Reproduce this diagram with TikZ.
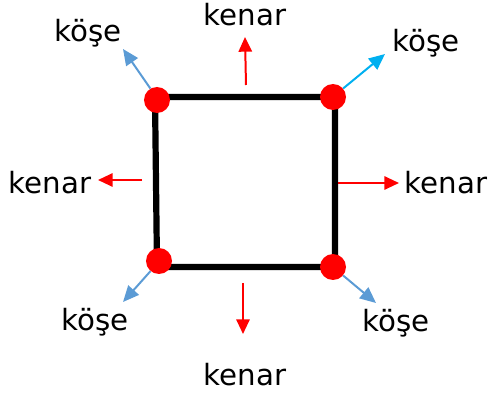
\documentclass[tikz,border=0pt]{standalone}
\usepackage{fontspec}
\setmainfont{DejaVu Sans}
\usepackage{tikz}
\usetikzlibrary{arrows.meta, positioning, calc}
\definecolor{dotred}{RGB}{255, 0, 0}
\definecolor{edgered}{RGB}{255, 0, 0}
\definecolor{cornerblue}{RGB}{91, 155, 213}
\definecolor{cornercyan}{RGB}{0, 176, 240}
\tikzset{
    cornerdot/.style={
        circle, fill=dotred, minimum size=0.78cm, inner sep=0pt
    },
    lbl/.style={
        font=\fontsize{25}{28}\selectfont, inner sep=0pt
    },
    edgeptr/.style={
        -{Triangle[length=0.44cm, width=0.4cm]}, edgered, line width=1.7pt
    },
    cornerptr/.style={
        -{Triangle[length=0.48cm, width=0.42cm]}, cornerblue, line width=1.7pt
    }
}
\begin{document}
\begin{tikzpicture}[x=0.03cm, y=-0.03cm]
    \useasboundingbox (0,0) rectangle (491,394);

    % --- 1. KARE ---
    \coordinate (sqtl) at (155,97);
    \coordinate (sqtr) at (335,97);
    \coordinate (sqbr) at (335,267);
    \coordinate (sqbl) at (157,267);
    \draw[line width=5.3pt, line join=miter] (sqtl) -- (sqtr) -- (sqbr) -- (sqbl) -- cycle;

    % --- 2. KÖŞE NOKTALARI ---
    \node[cornerdot] (ctl) at (157,100) {};
    \node[cornerdot] (ctr) at (333,97) {};
    \node[cornerdot] (cbl) at (159,261) {};
    \node[cornerdot] (cbr) at (333,267) {};

    % --- 3. ETİKETLER ---
    \node[lbl] (ltl) at (88,33) {köşe};
    \node[lbl] (ltop) at (245,15) {kenar};
    \node[lbl] (ltr) at (426,43) {köşe};
    \node[lbl] (lleft) at (50,183) {kenar};
    \node[lbl] (lright) at (446,183) {kenar};
    \node[lbl] (lbl) at (95,322) {köşe};
    \node[lbl] (lbr) at (396,323) {köşe};
    \node[lbl] (lbot) at (245,375) {kenar};

    % --- 4. OK UÇLARI ---
    \coordinate (ttl) at (123,49);
    \coordinate (ttr) at (385,54);
    \coordinate (tbl) at (123,302);
    \coordinate (tbr) at (376,303);
    \coordinate (etop0) at (246,85);
    \coordinate (etop1) at (245,37);
    \coordinate (eleft0) at (142,180);
    \coordinate (eleft1) at (98,180);
    \coordinate (eright0) at (338,183);
    \coordinate (eright1) at (399,183);
    \coordinate (ebot0) at (243,283);
    \coordinate (ebot1) at (243,334);

    % --- 5. OKLAR ---
    \draw[cornerptr] (ctl.120) -- (ttl);
    \draw[cornerptr, cornercyan] (ctr.40) -- (ttr);
    \draw[cornerptr] (cbl.230) -- (tbl);
    \draw[cornerptr] (cbr.320) -- (tbr);
    \draw[edgeptr] (etop0) -- (etop1);
    \draw[edgeptr] (eleft0) -- (eleft1);
    \draw[edgeptr] (eright0) -- (eright1);
    \draw[edgeptr] (ebot0) -- (ebot1);
\end{tikzpicture}
\end{document}
